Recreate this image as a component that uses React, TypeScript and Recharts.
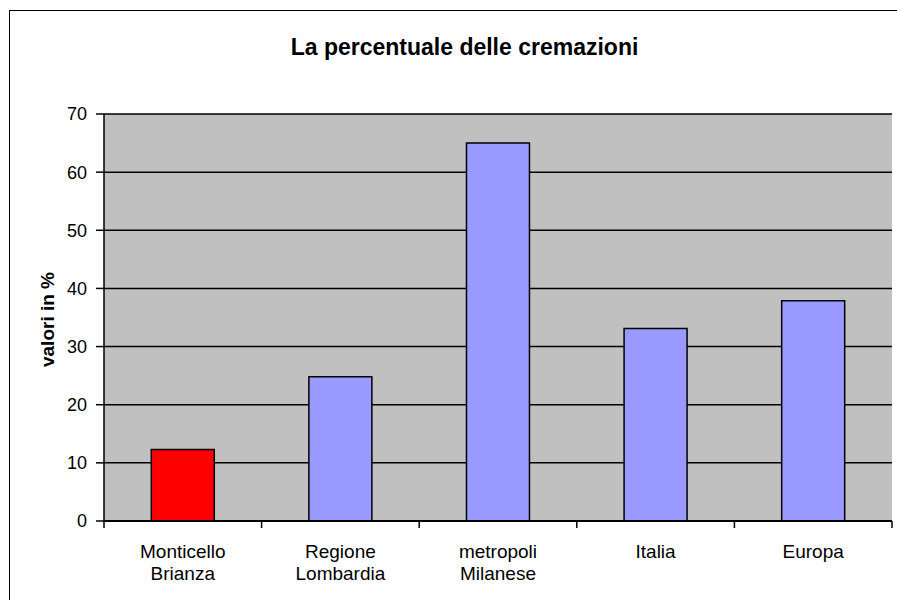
import { BarChart, Bar, XAxis, YAxis, CartesianGrid, Cell, Label } from "recharts"

const categories = ["Monticello\nBrianza", "Regione\nLombardia", "metropoli\nMilanese", "Italia", "Europa"]
const percentuali = [12.3, 24.8, 65, 33.1, 37.9]
const yTicks = [0, 10, 20, 30, 40, 50, 60, 70]

const barColors = ["#FF0000", "#9999FF", "#9999FF", "#9999FF", "#9999FF"]
const FONT = "'Liberation Sans', Arial, sans-serif"

const data = categories.map((name, i) => ({ name, value: percentuali[i] }))

function CategoryTick(props: any) {
    const { x, y, payload, index, visibleTicksCount } = props
    const half = payload?.offset ?? 78.8
    const lines = String(payload.value).split("\n")
    const isLast = index === visibleTicksCount - 1
    return (
        <g>
            <line x1={x - half} x2={x - half} y1={y} y2={y + 7} stroke="#000" strokeWidth={1.5} />
            {isLast && <line x1={x + half} x2={x + half} y1={y} y2={y + 7} stroke="#000" strokeWidth={1.5} />}
            <text x={x} y={y} textAnchor="middle" fill="#000" fontSize={19} fontFamily={FONT}>
                {lines.map((l, i) => (
                    <tspan key={i} x={x} y={y + 37 + i * 22}>{l}</tspan>
                ))}
            </text>
        </g>
    )
}

function AxisTitle(props: any) {
    const { viewBox } = props
    const cx = viewBox.x + 54
    const cy = viewBox.y + viewBox.height / 2 + 2
    return (
        <text x={cx} y={cy} transform={`rotate(-90, ${cx}, ${cy})`} textAnchor="middle"
            fontSize={19} fontWeight="bold" fontFamily={FONT} fill="#000">
            valori in %
        </text>
    )
}

export default function App() {
    return (
        <div style={{ position: "relative", width: 897, height: 600, overflow: "hidden", background: "#fff", fontFamily: FONT }}>
            <style>{`body{margin:0}`}</style>
            <div style={{ position: "absolute", left: 9, top: 10, width: 950, height: 650, border: "1px solid #000", boxSizing: "border-box" }} />
            <div style={{ position: "absolute", left: 9, top: 34, width: 911, textAlign: "center", fontSize: 23, fontWeight: "bold", color: "#000", lineHeight: "26px" }}>
                La percentuale delle cremazioni
            </div>
            <div style={{ position: "absolute", left: 0, top: 0 }}>
                <BarChart width={897} height={600} data={data} margin={{ top: 114, right: 5, left: 0, bottom: 0 }} barCategoryGap="30%">
                    <CartesianGrid vertical={false} stroke="#000" strokeWidth={1.5} fill="#C0C0C0" fillOpacity={1} />
                    <XAxis dataKey="name" height={79} tickSize={0} tickMargin={0} tickLine={false}
                        axisLine={{ stroke: "#000", strokeWidth: 2 }} tick={<CategoryTick />} interval={0} />
                    <XAxis xAxisId="top" orientation="top" dataKey="name" height={0} tick={false} tickLine={false}
                        axisLine={{ stroke: "#808080", strokeWidth: 2 }} />
                    <YAxis width={104} domain={[0, 70]} ticks={yTicks} tickSize={8} tickMargin={9}
                        axisLine={{ stroke: "#000", strokeWidth: 1.5 }} tickLine={{ stroke: "#000", strokeWidth: 1.5 }}
                        tick={{ fill: "#000", fontSize: 18, fontFamily: FONT }} allowDataOverflow>
                        <Label content={<AxisTitle />} />
                    </YAxis>
                    <YAxis yAxisId="right" orientation="right" width={0} tick={false} tickLine={false}
                        axisLine={{ stroke: "#808080", strokeWidth: 2 }} domain={[0, 70]} />
                    <Bar dataKey="value" stroke="#000" strokeWidth={1.5} isAnimationActive={false}>
                        {data.map((_, i) => (
                            <Cell key={i} fill={barColors[i]} />
                        ))}
                    </Bar>
                </BarChart>
            </div>
        </div>
    )
}
